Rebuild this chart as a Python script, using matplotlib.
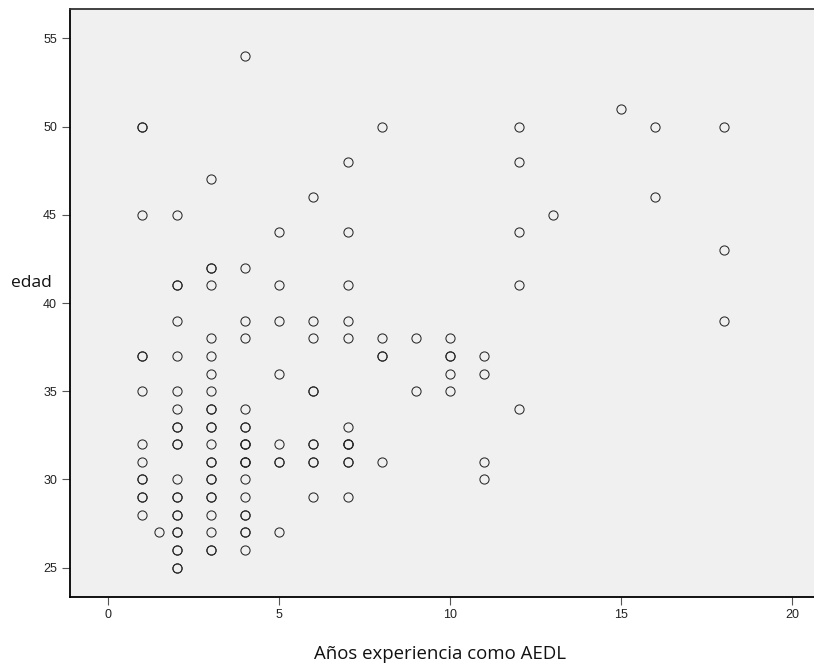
import matplotlib
matplotlib.use('Agg')
import matplotlib.pyplot as plt
import numpy as np

# Años experiencia (x), edad (y), n = casos superpuestos en el mismo punto
exp_x = [1, 1, 1, 1, 1, 1, 1, 1, 1,
         1.5,
         2, 2, 2, 2, 2, 2, 2, 2, 2, 2, 2, 2, 2, 2,
         3, 3, 3, 3, 3, 3, 3, 3, 3, 3, 3, 3, 3, 3, 3, 3,
         4, 4, 4, 4, 4, 4, 4, 4, 4, 4, 4, 4, 4,
         5, 5, 5, 5, 5, 5, 5,
         6, 6, 6, 6, 6, 6, 6,
         7, 7, 7, 7, 7, 7, 7, 7, 7,
         8, 8, 8, 8,
         9, 9,
         10, 10, 10, 10,
         11, 11, 11, 11,
         12, 12, 12, 12, 12,
         13, 15, 16, 16, 18, 18, 18]
edad_y = [50, 45, 37, 35, 32, 31, 30, 29, 28,
          27,
          45, 41, 39, 37, 35, 34, 33, 32, 30, 29, 28, 27, 26, 25,
          47, 42, 41, 38, 37, 36, 35, 34, 33, 32, 31, 30, 29, 28, 27, 26,
          54, 42, 39, 38, 34, 33, 32, 31, 30, 29, 28, 27, 26,
          44, 41, 39, 36, 32, 31, 27,
          46, 39, 38, 35, 32, 31, 29,
          48, 44, 41, 39, 38, 33, 32, 31, 29,
          50, 38, 37, 31,
          38, 35,
          38, 37, 36, 35,
          37, 36, 31, 30,
          50, 48, 44, 41, 34,
          45, 51, 50, 46, 50, 43, 39]
n_casos = [2, 1, 2, 1, 1, 1, 2, 2, 1,
           1,
           1, 2, 1, 1, 1, 1, 2, 2, 1, 2, 2, 2, 2, 2,
           1, 2, 1, 1, 1, 1, 1, 2, 2, 1, 2, 2, 2, 1, 1, 2,
           1, 1, 1, 1, 1, 2, 3, 3, 1, 1, 2, 2, 1,
           1, 1, 1, 1, 1, 2, 1,
           1, 1, 1, 2, 2, 2, 1,
           1, 1, 1, 1, 1, 1, 3, 2, 1,
           1, 1, 2, 1,
           1, 1,
           1, 2, 1, 1,
           1, 1, 1, 1,
           1, 1, 1, 1, 1,
           1, 1, 1, 1, 1, 1, 1]

x = np.repeat(exp_x, n_casos)
y = np.repeat(edad_y, n_casos)

fig = plt.figure(figsize=(8.14, 6.66), dpi=100)
ax = fig.add_axes([0.0854, 0.1041, 0.93, 0.8824])
ax.set_facecolor('#f0f0f0')

ax.plot(x, y, linestyle='none', marker='o', markersize=6.6,
        markerfacecolor='none', markeredgecolor='#2a2a2a', markeredgewidth=0.75)

ax.set_xlim(-1.13, 21.0)
ax.set_ylim(23.36, 56.66)
ax.set_xticks([0, 5, 10, 15, 20])
ax.set_yticks([25, 30, 35, 40, 45, 50, 55])

for s in ['left', 'bottom']:
    ax.spines[s].set_linewidth(1.3)
    ax.spines[s].set_color('black')
ax.spines['top'].set_linewidth(1.3)
ax.spines['top'].set_color('#333333')
ax.spines['right'].set_visible(False)

ax.tick_params(direction='out', length=6, width=0.8, color='#555555',
               labelsize=9, labelcolor='#222222', pad=3)
for lab in ax.get_xticklabels() + ax.get_yticklabels():
    lab.set_family('Liberation Sans')

fig.text(440 / 814, 1 - 654 / 666, 'Años experiencia como AEDL', ha='center', va='center',
         fontsize=13.4, family='Open Sans', color='#111111')
fig.text(31 / 814, 1 - 283 / 666, 'edad', ha='center', va='center',
         fontsize=12.5, family='Open Sans', color='#111111')

fig.savefig('out.png', dpi=100)
